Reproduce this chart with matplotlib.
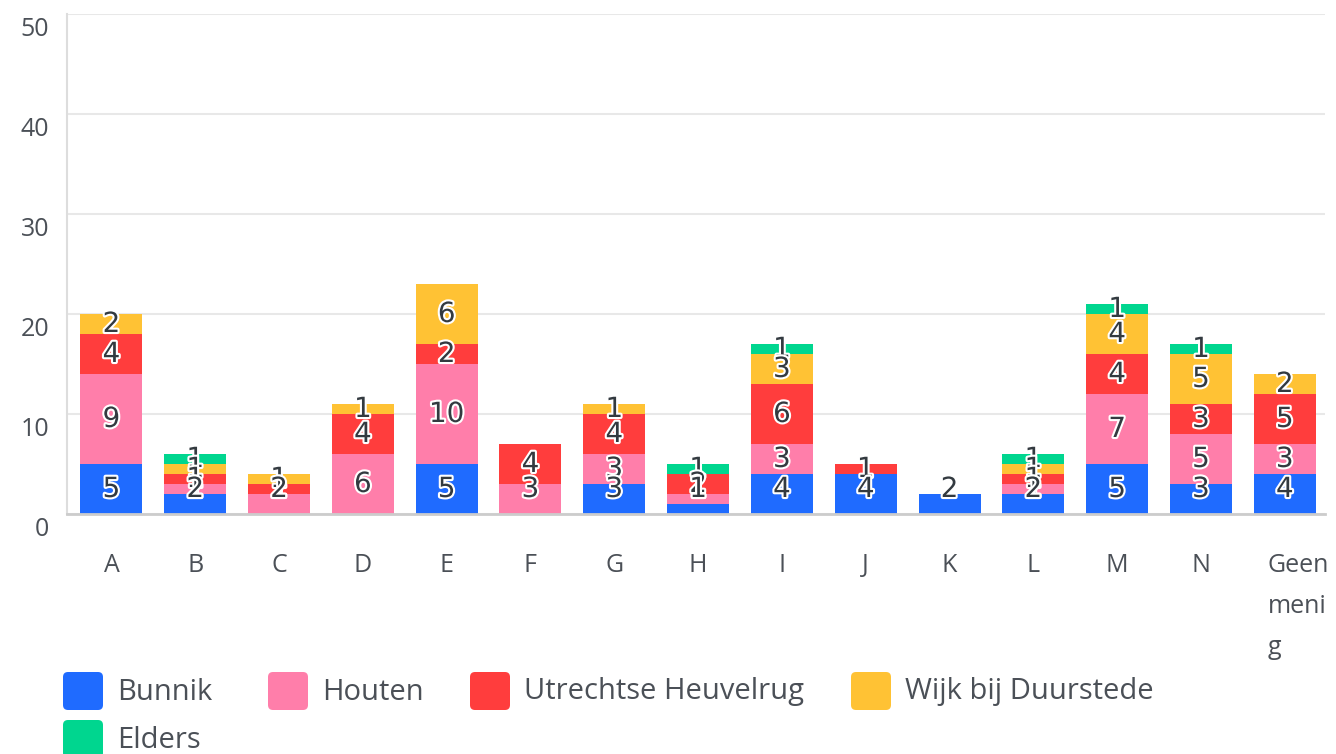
import matplotlib
matplotlib.use("Agg")
import matplotlib.pyplot as plt
import numpy as np
from matplotlib.patches import FancyBboxPatch
from matplotlib.transforms import ScaledTranslation, IdentityTransform
import matplotlib.patheffects as pe

categories = ["A", "B", "C", "D", "E", "F", "G", "H", "I", "J", "K", "L", "M", "N", "Geen mening"]
series_names = ["Bunnik", "Houten", "Utrechtse Heuvelrug", "Wijk bij Duurstede", "Elders"]
bunnik = [5, 2, 0, 0, 5, 0, 3, 1, 4, 4, 2, 2, 5, 3, 4]
houten = [9, 1, 2, 6, 10, 3, 3, 1, 3, 0, 0, 1, 7, 5, 3]
heuvelrug = [4, 1, 1, 4, 2, 4, 4, 2, 6, 1, 0, 1, 4, 3, 5]
wijk = [2, 1, 1, 1, 6, 0, 1, 0, 3, 0, 0, 1, 4, 5, 2]
elders = [0, 1, 0, 0, 0, 0, 0, 1, 1, 0, 0, 1, 1, 1, 0]
yticks = [0, 10, 20, 30, 40, 50]
colors = ["#1f6bff", "#ff7eaa", "#ff3d3d", "#ffc234", "#00d68f"]

series = [bunnik, houten, heuvelrug, wijk, elders]

W, H = 1336, 754
fig = plt.figure(figsize=(W / 100, H / 100), dpi=100)
ax_left, ax_right, ax_top, ax_bottom = 67, 1325, 14, 514
ax = fig.add_axes([ax_left / W, 1 - ax_bottom / H, (ax_right - ax_left) / W, (ax_bottom - ax_top) / H])

text_color = "#4b5057"
font = "Open Sans"

x = np.arange(len(categories))
bottom = np.zeros(len(categories))
label_specs = []
for si, (name, vals, col) in enumerate(zip(series_names, series, colors)):
    vals = np.array(vals, dtype=float)
    ax.bar(x, vals, 0.74, bottom=bottom, color=col, label=name, zorder=2, linewidth=0)
    for xi, v, b in zip(x, vals, bottom):
        if v > 0:
            # labels are kept inside the plot: clamp near the axis bottom
            label_specs.append((si, xi, max(b + v / 2, 2.5), int(v)))
    bottom += vals

# draw labels with lower series on top (reverse order)
for si, xi, yl, v in sorted(label_specs, key=lambda t: -t[0]):
    ax.text(xi, yl, f"{v}", ha="center", va="center", fontsize=20,
            family="DejaVu Sans", color="#333a40", zorder=3 + (5 - si) * 0.01,
            path_effects=[pe.withStroke(linewidth=3, foreground="white")])

ax.set_ylim(0, 50)
ax.set_xlim(-0.53, 14.48)
ax.set_yticks(yticks)
ax.yaxis.grid(True, color="#e8e8e8", linewidth=1.5, zorder=0)
ax.set_axisbelow(True)
for s in ["top", "right"]:
    ax.spines[s].set_visible(False)
ax.spines["left"].set_color("#dddddd")
ax.spines["left"].set_linewidth(1.5)
ax.spines["bottom"].set_color("#cccccc")
ax.spines["bottom"].set_linewidth(2)
ax.tick_params(axis="both", length=0, labelsize=18, labelcolor=text_color)
ax.tick_params(axis="y", pad=13)
ax.tick_params(axis="x", pad=28)
for lab in ax.get_yticklabels():
    lab.set_family(font)
    lab.set_transform(lab.get_transform() + ScaledTranslation(0, -0.13, fig.dpi_scale_trans))

xlabels = [c if c != "Geen mening" else "Geen\nmeni\ng" for c in categories]
ax.set_xticks(x)
ax.set_xticklabels(xlabels, family=font, linespacing=1.85, va="top")
last = ax.get_xticklabels()[-1]
last.set_ha("left")
last.set_multialignment("left")
last.set_transform(last.get_transform() + ScaledTranslation(-0.17, 0, fig.dpi_scale_trans))

# Legend (manual flow layout)
leg_items = [(0, 63, 672), (1, 268, 672), (2, 470, 672), (3, 851, 672), (4, 63, 720)]
for idx, lx, ly in leg_items:
    sq = FancyBboxPatch((lx, H - ly - 38), 40, 38, boxstyle="round,pad=0,rounding_size=5",
                        facecolor=colors[idx], edgecolor="none", transform=IdentityTransform(),
                        figure=fig)
    fig.patches.append(sq)
    fig.text((lx + 54) / W, 1 - (ly + 20) / H, series_names[idx], fontsize=21, family=font,
             color=text_color, ha="left", va="center")

fig.savefig("out.png", dpi=100)
